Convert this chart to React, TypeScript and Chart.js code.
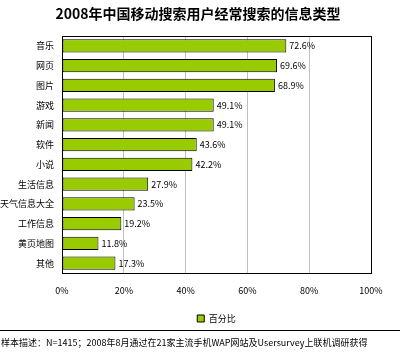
import React, { useEffect, useRef } from "react";
import { Chart, registerables } from "chart.js";
Chart.register(...registerables);

const categories = ["音乐", "网页", "图片", "游戏", "新闻", "软件", "小说", "生活信息", "天气信息大全", "工作信息", "黄页地图", "其他"];
const values = [72.6, 69.6, 68.9, 49.1, 49.1, 43.6, 42.2, 27.9, 23.5, 19.2, 11.8, 17.3];
const seriesName = "百分比";
const titleText = "2008年中国移动搜索用户经常搜索的信息类型";
const noteText = "样本描述：N=1415；2008年8月通过在21家主流手机WAP网站及Usersurvey上联机调研获得";

const FONT = "'Noto Sans CJK SC', 'Noto Sans', sans-serif";
const GREEN = "#99cc00";

const extras = {
  id: "extras",
  afterDatasetsDraw(chart: any) {
    const ctx = chart.ctx;
    const meta = chart.getDatasetMeta(0);
    ctx.save();
    ctx.font = `9px ${FONT}`;
    ctx.fillStyle = "#000";
    ctx.textBaseline = "middle";
    ctx.textAlign = "left";
    meta.data.forEach((bar: any, i: number) => {
      ctx.fillText(values[i].toFixed(1) + "%", bar.x + 3, bar.y);
    });
    ctx.restore();
  },
  afterDraw(chart: any) {
    const ctx = chart.ctx;
    const w = chart.width;
    ctx.save();
    const a = chart.chartArea;
    ctx.strokeStyle = "#000";
    ctx.lineWidth = 1;
    ctx.strokeRect(Math.round(a.left) + 0.5, Math.round(a.top) + 0.5, Math.round(a.right - a.left), Math.round(a.bottom - a.top));
    ctx.fillStyle = "#000";
    ctx.font = `bold 14px ${FONT}`;
    ctx.textAlign = "center";
    ctx.textBaseline = "middle";
    ctx.fillText(titleText, 198, 14);
    ctx.beginPath();
    ctx.moveTo(0, 330.5);
    ctx.lineTo(w, 330.5);
    ctx.stroke();
    ctx.font = `9px ${FONT}`;
    ctx.textAlign = "left";
    ctx.fillText(noteText, 1, 343);
    ctx.restore();
  },
};

export default function App() {
  const ref = useRef<HTMLCanvasElement>(null);
  useEffect(() => {
    document.body.style.margin = "0";
    const chart = new Chart(ref.current!, {
      type: "bar",
      data: {
        labels: categories,
        datasets: [
          {
            label: seriesName,
            data: values,
            backgroundColor: GREEN,
            borderColor: "#000",
            borderWidth: 1,
            borderSkipped: false,
            categoryPercentage: 1,
            barPercentage: 0.66,
          },
        ],
      },
      options: {
        indexAxis: "y",
        animation: false,
        responsive: false,
        layout: { padding: { top: 36, right: 29, left: 0, bottom: 21 } },
        plugins: {
          title: { display: false },
          tooltip: { enabled: false },
          legend: {
            position: "bottom",
            fullSize: false,
            labels: {
              boxWidth: 7,
              boxHeight: 7,
              padding: 6,
              color: "#000",
              font: { family: FONT, size: 9 },
            },
          },
        },
        scales: {
          x: {
            min: 0,
            max: 100,
            ticks: {
              stepSize: 20,
              color: "#000",
              font: { family: FONT, size: 9 },
              callback: (v: any) => v + "%",
              padding: 12,
            },
            grid: { color: "#c0c0c0", drawTicks: false },
            border: { display: false },
            afterFit: (s: any) => {
              s.height = 35;
            },
          },
          y: {
            ticks: {
              color: "#000",
              font: { family: FONT, size: 9 },
              padding: 8,
            },
            grid: { display: false, drawTicks: false },
            border: { display: false },
            afterFit: (s: any) => {
              s.width = 62;
            },
          },
        },
      },
      plugins: [extras],
    });
    return () => chart.destroy();
  }, []);
  return (
    <div style={{ position: "absolute", left: 0, top: 0, width: 400, height: 354 }}>
      <canvas ref={ref} width={400} height={354} style={{ width: 400, height: 354 }} />
    </div>
  );
}
